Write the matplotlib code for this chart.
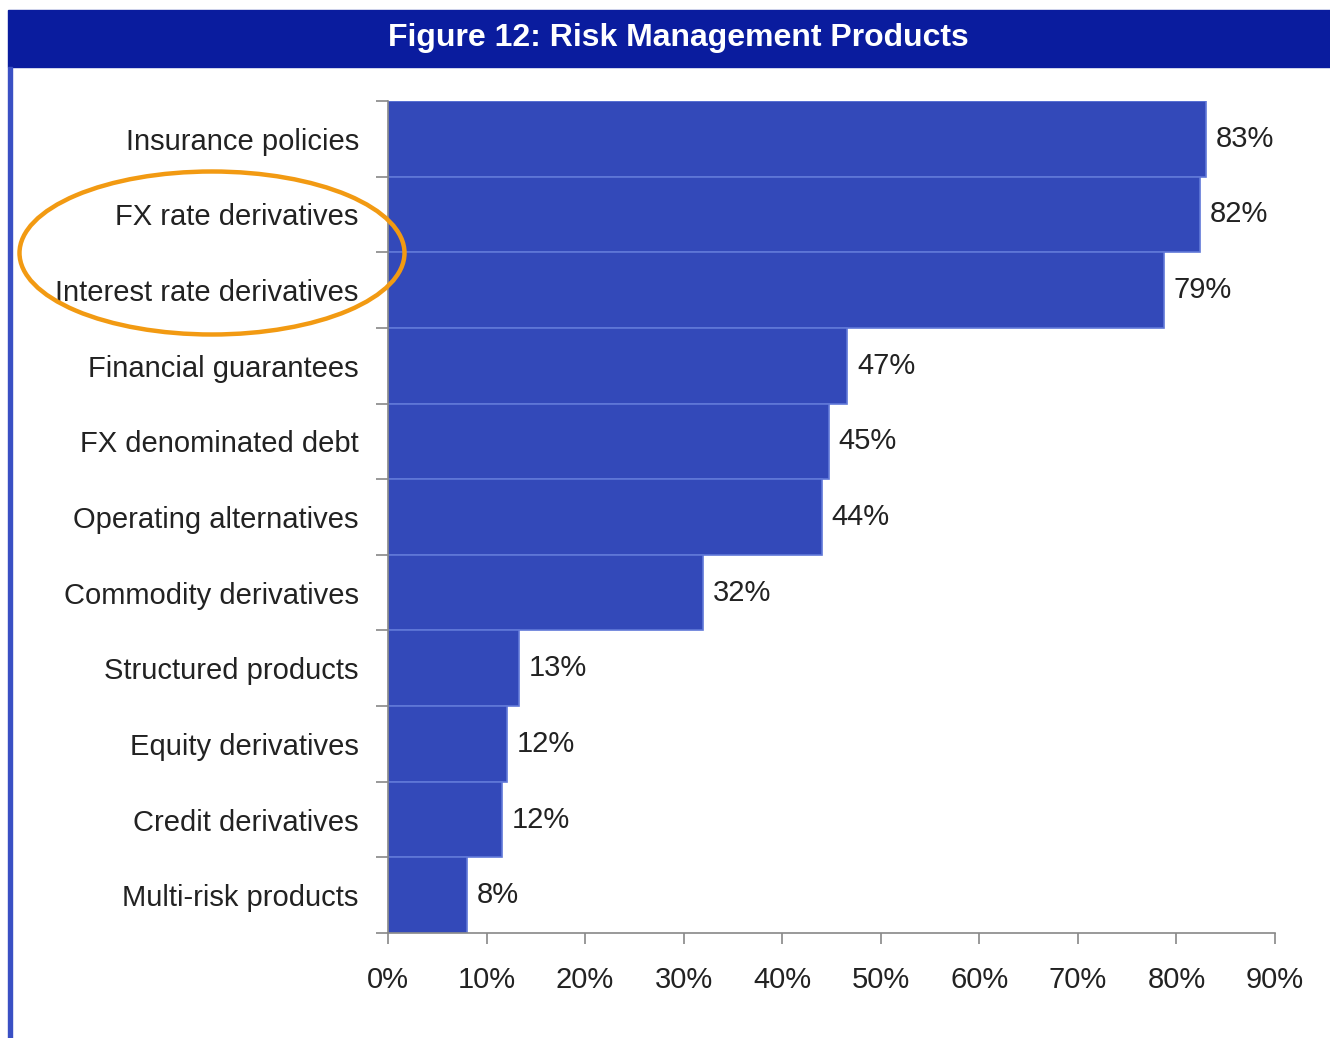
import matplotlib.pyplot as plt
import numpy as np
from matplotlib.patches import Ellipse, Rectangle

categories = ['Insurance policies', 'FX rate derivatives', 'Interest rate derivatives',
              'Financial guarantees', 'FX denominated debt', 'Operating alternatives',
              'Commodity derivatives', 'Structured products', 'Equity derivatives',
              'Credit derivatives', 'Multi-risk products']
values = [83.0, 82.4, 78.7, 46.6, 44.7, 44.0, 32.0, 13.3, 12.1, 11.6, 8.0]
labels = ['83%', '82%', '79%', '47%', '45%', '44%', '32%', '13%', '12%', '12%', '8%']
xticks = [0, 10, 20, 30, 40, 50, 60, 70, 80, 90]

plt.rcParams['font.family'] = ['Liberation Sans', 'DejaVu Sans']

fig = plt.figure(figsize=(13.3, 10.38), dpi=100)
ax = fig.add_axes([388 / 1330, 1 - 933 / 1038, 887 / 1330, 832 / 1038])

y = np.arange(len(categories))
ax.barh(y, values, height=1.0, color='#3349b9', edgecolor='#6078d8', linewidth=1.2)

for yi, v, lab in zip(y, values, labels):
    ax.text(v + 1.0, yi, lab, va='center', ha='left', fontsize=21, color='#222222')

ax.set_xlim(0, 90)
ax.set_ylim(len(categories) - 0.5, -0.5)
ax.set_xticks(xticks)
ax.set_xticklabels([f'{t}%' for t in xticks], fontsize=21, color='#222222')
ax.set_yticks(y)
ax.set_yticklabels(categories, fontsize=21, color='#222222')
ax.set_yticks(np.arange(len(categories) + 1) - 0.5, minor=True)

ax.tick_params(axis='x', length=8, width=1.2, color='#888888', pad=16)
ax.tick_params(axis='y', which='major', length=0, pad=21)
ax.tick_params(axis='y', which='minor', length=9, width=1.2, color='#888888')

for s in ['top', 'right']:
    ax.spines[s].set_visible(False)
for s in ['left', 'bottom']:
    ax.spines[s].set_color('#888888')
    ax.spines[s].set_linewidth(1.2)

# title banner and left border
fig.patches.append(Rectangle((8 / 1330, 1 - 67 / 1038), 1, 57 / 1038,
                             transform=fig.transFigure, color='#0a1c9e', zorder=0))
fig.patches.append(Rectangle((8 / 1330, 0), 4 / 1330, 1 - 67 / 1038,
                             transform=fig.transFigure, color='#3a50c4', zorder=0))
fig.text(678 / 1330, 1 - 38 / 1038, 'Figure 12: Risk Management Products',
         ha='center', va='center', fontsize=23, fontweight='bold', color='white')

# orange highlight ellipse
fig.patches.append(Ellipse((212 / 1330, 1 - 253 / 1038), 385 / 1330, 163 / 1038,
                           transform=fig.transFigure, fill=False,
                           edgecolor='#f29a12', linewidth=3.2, zorder=5))

fig.savefig('out.png', dpi=100)
